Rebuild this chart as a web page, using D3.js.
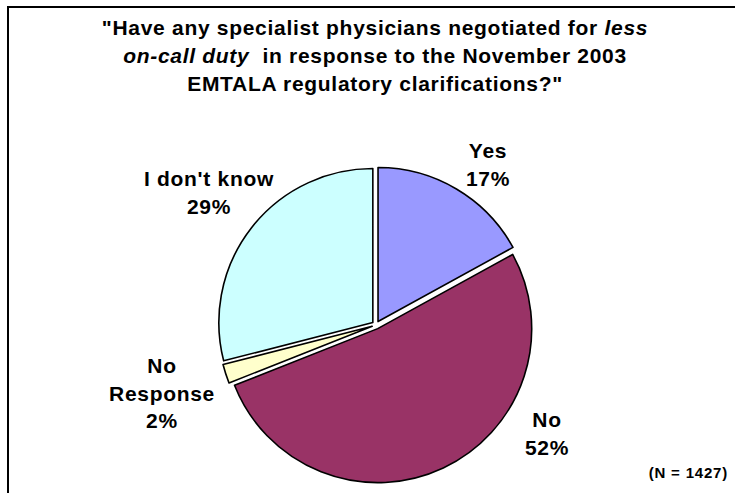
<!DOCTYPE html>
<html><head><meta charset="utf-8">
<script src="https://cdn.jsdelivr.net/npm/d3@7/dist/d3.min.js"></script>
<style>
html,body{margin:0;padding:0;background:#fff;}
svg{display:block;font-family:"Liberation Sans",Arial,sans-serif;}
</style></head>
<body>
<svg id="chart" width="735" height="493"></svg>
<script>
const categories = ["Yes", "No", "No Response", "I don't know"];
const values = [17, 52, 2, 29];
const colors = ["#9999FF", "#993366", "#FFFFCC", "#CCFFFF"];
const labelLines = [["Yes", "17%"], ["No", "52%"], ["No", "Response", "2%"], ["I don't know", "29%"]];
const labelPos = [[488, 158], [547, 427], [162, 373], [209, 186]];
const titleLines = [
  [{t: "\"Have any specialist physicians negotiated for ", i: false}, {t: "less", i: true}],
  [{t: "on-call duty", i: true}, {t: "  in response to the November 2003", i: false}],
  [{t: "EMTALA regulatory clarifications?\"", i: false}]
];
const note = "(N = 1427)";

const svg = d3.select("#chart");
svg.append("rect").attr("x", 8).attr("y", 7).attr("width", 760).attr("height", 520)
  .attr("fill", "none").attr("stroke", "#000").attr("stroke-width", 2);

const title = svg.append("text").attr("text-anchor", "middle").attr("xml:space", "preserve")
  .attr("font-size", 21).attr("font-weight", "bold").attr("letter-spacing", 0.7).attr("fill", "#000");
titleLines.forEach((line, li) => {
  line.forEach((seg, si) => {
    const ts = title.append("tspan").text(seg.t).attr("font-style", seg.i ? "italic" : "normal")
      .style("white-space", "pre");
    if (si === 0) ts.attr("x", 375).attr("y", 35 + li * 28);
  });
});

const cx = 376, cy = 325, r = 154, explode = 4;
const pie = d3.pie().sort(null).value(d => d)(values);
const arc = d3.arc().innerRadius(0).outerRadius(r);
const g = svg.append("g").attr("transform", `translate(${cx},${cy})`);
g.selectAll("path").data(pie).join("path")
  .attr("d", arc)
  .attr("transform", d => {
    const a = (d.startAngle + d.endAngle) / 2;
    return `translate(${explode * Math.sin(a)},${-explode * Math.cos(a)})`;
  })
  .attr("fill", (d, i) => colors[i])
  .attr("stroke", "#000").attr("stroke-width", 1.6).attr("stroke-linejoin", "round");

labelLines.forEach((lines, i) => {
  const t = svg.append("text").attr("text-anchor", "middle")
    .attr("font-size", 21).attr("font-weight", "bold").attr("letter-spacing", 0.7).attr("fill", "#000");
  lines.forEach((s, k) => {
    t.append("tspan").attr("x", labelPos[i][0]).attr("y", labelPos[i][1] + k * 27.5).text(s);
  });
});

svg.append("text").attr("x", 728).attr("y", 478).attr("text-anchor", "end")
  .attr("font-size", 15).attr("font-weight", "bold").attr("letter-spacing", 0.8).text(note);
</script>
</body></html>
